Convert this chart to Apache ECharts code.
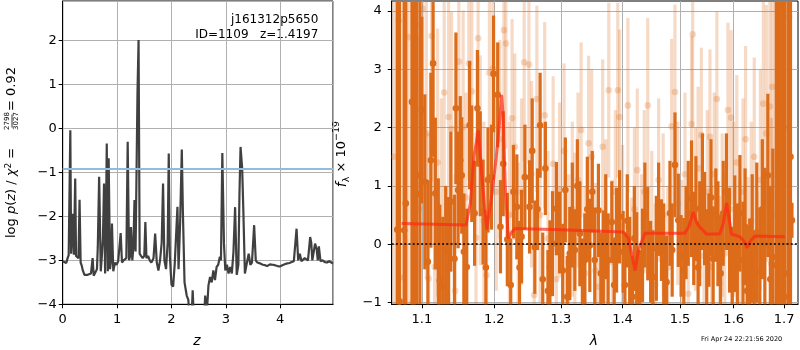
<!DOCTYPE html>
<html><head><meta charset="utf-8">
<script src="https://cdn.jsdelivr.net/npm/echarts@6/dist/echarts.min.js"></script>
<style>html,body{margin:0;padding:0;background:#fff}#c{width:800px;height:350px}</style>
</head><body><div id="c"></div>
<script>
// ---------- left panel: redshift probability ----------
const zMin = 0, zMax = 4.97;
const logpMin = -4, logpMax = 2.9;
const pzRef = -0.91;
const zVals = [0.00,0.03,0.066,0.09,0.11,0.13,0.14,0.155,0.17,0.19,
0.205,0.23,0.245,0.27,0.29,0.31,0.33,0.35,0.37,0.40,
0.43,0.46,0.49,0.52,0.55,0.57,0.60,0.63,0.645,0.67,
0.70,0.72,0.74,0.76,0.78,0.80,0.81,0.83,0.845,0.87,
0.89,0.906,0.93,0.96,0.99,1.02,1.045,1.066,1.09,1.12,
1.15,1.17,1.195,1.22,1.24,1.255,1.28,1.30,1.32,1.34,
1.355,1.375,1.395,1.415,1.44,1.47,1.50,1.52,1.54,1.57,
1.60,1.63,1.67,1.70,1.73,1.76,1.79,1.82,1.845,1.87,
1.90,1.93,1.95,1.97,2.00,2.03,2.06,2.09,2.11,2.13,
2.16,2.19,2.21,2.24,2.28,2.31,2.33,2.37,2.39,2.41,
2.60,2.62,2.65,2.68,2.71,2.74,2.77,2.80,2.83,2.86,
2.89,2.91,2.935,2.965,2.99,3.02,3.05,3.08,3.11,3.14,
3.17,3.20,3.23,3.25,3.27,3.30,3.32,3.35,3.38,3.42,
3.45,3.48,3.52,3.55,3.58,3.63,3.68,3.72,3.76,3.81,
3.86,3.90,3.95,3.99,4.04,4.08,4.13,4.17,4.21,4.25,
4.28,4.30,4.33,4.36,4.39,4.42,4.45,4.48,4.51,4.55,
4.57,4.59,4.64,4.67,4.69,4.71,4.74,4.78,4.82,4.86,
4.90,4.94,4.97];
const logpVals = [-3.02,-3.05,-3.06,-2.95,-2.88,-2.85,-0.04,-2.85,-2.82,-1.94,
-2.87,-1.14,-2.90,-2.92,-2.95,-1.62,-3.05,-3.12,-3.23,-3.33,
-3.35,-3.33,-3.34,-3.30,-2.95,-3.35,-3.38,-3.20,-2.70,-1.10,
-3.25,-2.90,-2.50,-1.25,-3.30,-1.60,-0.34,-3.25,-0.68,-3.20,
-3.00,-2.16,-3.25,-3.05,-3.10,-3.02,-3.00,-2.38,-3.05,-3.00,
-3.02,-2.95,-0.30,-3.00,-2.90,-2.24,-3.00,-2.70,-1.63,-2.80,
-2.80,0.80,2.01,-2.85,-2.90,-2.95,-2.90,-2.13,-2.95,-2.90,
-3.00,-3.05,-2.95,-2.39,-3.05,-3.23,-3.00,-2.60,-1.25,-3.00,
-3.20,-2.60,-0.57,-2.90,-3.55,-3.60,-3.08,-2.30,-1.78,-3.20,
-2.10,-0.48,-1.90,-3.50,-3.80,-3.90,-4.30,-4.30,-3.68,-4.30,
-4.30,-3.80,-4.20,-3.57,-3.38,-3.50,-3.23,-3.45,-3.15,-3.10,
-2.92,-3.00,-0.56,-2.62,-3.23,-3.10,-3.30,-3.15,-3.30,-2.80,
-1.79,-3.33,-3.10,-1.50,-0.42,-0.91,-1.80,-3.30,-3.10,-2.85,
-3.10,-3.05,-2.20,-3.00,-3.05,-3.07,-3.10,-3.11,-3.13,-3.09,
-3.10,-3.11,-3.13,-3.14,-3.11,-3.09,-3.07,-3.06,-3.04,-3.02,
-3.00,-2.28,-3.00,-2.85,-3.02,-3.00,-2.95,-2.92,-3.00,-2.47,
-2.60,-3.00,-2.62,-2.75,-3.00,-2.68,-3.02,-3.00,-3.04,-3.05,
-3.02,-3.05,-3.07];

// ---------- right panel: spectrum ----------
const lamMin = 1.0609, lamMax = 1.7285;
const fMin = -1.03, fMax = 4.17;
const lamTicks = [1.1,1.2,1.3,1.4,1.5,1.6,1.7];
const fTicks = [-1,0,1,2,3,4];
const zeroLevel = 0;
const darkLam = [
1.068,1.071,1.077,1.079,1.087,1.090,1.093,1.0975,1.100,1.104,
1.108,1.112,1.115,1.118,1.122,1.124,1.128,1.132,1.136,1.139,
1.144,1.146,1.149,1.152,1.154,1.157,1.161,1.165,1.168,1.172,
1.176,1.180,1.184,1.188,1.191,1.196,1.199,1.205,1.209,1.213,
1.219,1.224,1.228,1.233,1.237,1.240,1.245,1.252,1.256,1.260,
1.264,1.268,1.272,1.276,1.280,1.283,1.287,1.293,1.298,1.303,
1.307,1.310,1.314,1.318,1.322,1.326,1.330,1.334,1.338,1.342,
1.346,1.350,1.354,1.360,1.364,1.368,1.372,1.376,1.382,1.386,
1.390,1.395,1.401,1.404,1.408,1.412,1.417,1.420,1.424,1.429,
1.434,1.438,1.443,1.448,1.452,1.458,1.462,1.467,1.471,1.476,
1.482,1.486,1.491,1.497,1.502,1.507,1.511,1.515,1.521,1.525,
1.529,1.533,1.536,1.541,1.545,1.549,1.553,1.557,1.561,1.566,
1.570,1.575,1.580,1.586,1.592,1.597,1.602,1.607,1.612,1.618,
1.622,1.626,1.631,1.636,1.640,1.645,1.651,1.656,1.661,1.667,
1.672,1.677,1.684,1.688,1.692,1.697,1.701,1.708,1.713,1.716];
const darkFlux = [
0.25,-0.98,0.24,0.70,2.44,3.79,1.18,0.86,2.30,1.07,
-0.30,1.44,3.10,0.87,-0.07,-0.62,-0.73,-0.10,-0.39,0.73,
-0.25,2.33,0.93,1.44,1.18,-0.13,-0.39,2.04,1.38,0.53,
2.33,1.38,0.55,-0.40,1.10,1.15,2.92,2.56,0.30,1.38,
0.08,-0.70,0.90,0.64,-0.40,0.13,1.15,0.64,1.60,-0.05,
0.60,2.04,-0.60,1.30,-0.80,-0.39,0.01,0.61,0.20,-0.45,
0.93,-0.90,-0.16,0.50,-0.10,1.00,0.18,-0.60,-0.27,0.60,
-0.02,0.90,-0.27,0.58,-0.50,-0.22,0.30,-0.27,0.38,-0.70,
0.07,0.47,-0.13,-0.70,0.40,-0.33,-0.90,0.10,-0.25,-0.80,
-0.19,0.50,0.18,-0.30,-0.56,-0.07,0.60,0.07,-0.20,-0.65,
0.53,-0.10,1.36,0.41,-0.20,-0.45,0.20,0.53,0.78,0.10,
0.61,-0.40,0.18,0.90,0.44,-0.30,0.07,0.80,-0.25,0.50,
0.18,-0.50,0.53,0.90,0.07,-0.60,0.18,-0.20,0.53,-0.27,
0.30,-0.80,-0.56,0.10,-0.87,0.20,-0.47,0.60,0.01,1.18,
-0.60,-0.36,-0.22,0.90,1.21,2.30,-0.90,-0.50,1.50,0.41];
const darkErr = [
8,8,8,6,6,6,5,5,1.6,1.5,
1.4,1.5,1.6,1.3,1.2,1.3,1.2,1.1,1.2,1.2,
1.1,1.3,1.0,1.1,1.0,1.0,1.0,1.1,1.0,0.9,
1.0,0.9,0.9,0.9,0.9,0.9,1.0,0.9,0.8,0.9,
0.8,0.8,0.8,0.9,0.8,0.8,0.9,0.8,0.9,0.8,
0.7,0.9,0.8,0.8,0.7,0.8,0.9,0.8,0.7,0.8,
0.9,0.7,0.8,0.9,0.7,0.8,0.9,0.7,0.8,0.9,
0.8,0.7,0.9,0.8,0.7,0.8,0.9,0.8,0.7,0.8,
0.9,0.8,0.7,0.9,0.8,0.8,0.7,0.9,0.8,0.7,
0.8,0.9,0.8,0.7,0.8,0.9,0.8,0.7,0.9,0.8,
0.9,0.8,0.9,0.8,0.7,0.9,0.8,0.9,1.0,0.8,
0.9,0.8,0.9,1.0,0.8,0.9,0.8,1.0,0.9,0.8,
0.9,1.0,0.9,1.0,0.9,0.9,1.0,0.9,1.0,1.0,
1.0,1.1,1.0,1.1,1.1,1.2,1.1,1.2,1.3,1.4,
1.6,2.0,5,6,6,6,6,6,6,0.3];
const lightLam = [
1.064,1.070,1.076,1.082,1.088,1.092,1.096,1.101,1.106,1.109,
1.113,1.117,1.121,1.126,1.130,1.136,1.140,1.145,1.150,1.156,
1.160,1.164,1.168,1.174,1.177,1.180,1.185,1.189,1.193,1.198,
1.203,1.208,1.214,1.217,1.222,1.226,1.230,1.235,1.240,1.244,
1.251,1.255,1.259,1.263,1.268,1.275,1.280,1.288,1.293,1.298,
1.305,1.312,1.318,1.322,1.327,1.332,1.338,1.344,1.349,1.355,
1.360,1.367,1.372,1.377,1.383,1.388,1.392,1.395,1.400,1.409,
1.415,1.420,1.425,1.432,1.437,1.443,1.450,1.456,1.462,1.470,
1.478,1.485,1.491,1.496,1.503,1.509,1.515,1.521,1.523,1.528,
1.533,1.539,1.544,1.550,1.555,1.558,1.563,1.568,1.573,1.578,
1.583,1.589,1.595,1.600,1.606,1.612,1.618,1.623,1.628,1.634,
1.640,1.646,1.652,1.658,1.664,1.671,1.674,1.676,1.682,1.688,
1.695,1.703,1.710];
const lightFlux = [
1.50,3.83,-0.57,3.55,-0.99,3.77,0.60,4.04,1.90,-0.59,
3.57,-0.39,1.40,0.30,2.60,2.18,1.98,-0.80,3.13,2.01,
0.80,3.10,2.62,0.11,3.53,1.44,0.40,-0.53,2.94,3.01,
0.90,1.80,3.67,3.44,0.50,2.16,1.67,-0.20,0.90,3.12,
3.08,1.20,-0.87,2.49,0.50,2.21,0.10,1.38,-0.60,0.93,
1.60,-0.30,0.60,0.07,1.10,1.96,-0.50,1.73,1.50,-0.45,
-0.73,1.67,0.40,2.64,-0.30,0.90,2.64,2.18,0.30,2.38,
-0.60,0.60,1.27,-0.20,0.90,2.38,0.20,-0.70,1.10,0.50,
-0.40,2.02,2.61,0.70,-0.30,1.20,-0.85,2.06,3.60,0.60,
1.30,1.87,-0.20,0.90,1.84,-0.39,1.20,2.49,-0.67,0.50,
-0.16,2.30,2.17,0.60,1.40,-0.39,0.90,1.80,-0.45,0.40,
1.50,-0.90,1.10,2.41,1.90,2.36,-0.33,2.70,0.50,3.20,
-0.50,2.00,3.90];
const lightErr = [
8,8,8,8,6,4,3,3,2.5,2.5,
2.5,2.3,2.3,2.2,2.2,2.2,2.0,2.0,2.0,2.0,
1.8,2.0,1.8,1.8,1.8,1.8,1.7,1.7,1.8,1.8,
1.7,1.7,1.8,1.8,1.6,1.7,1.6,1.6,1.6,1.7,
1.7,1.6,1.6,1.6,1.5,1.6,1.5,1.5,1.5,1.5,
1.5,1.5,1.5,1.5,1.5,1.5,1.5,1.5,1.5,1.5,
1.5,1.5,1.4,1.5,1.4,1.4,1.5,1.5,1.4,1.5,
1.4,1.4,1.4,1.4,1.4,1.5,1.4,1.4,1.4,1.4,
1.4,1.5,1.5,1.4,1.4,1.4,1.4,1.5,1.6,1.4,
1.4,1.5,1.4,1.4,1.5,1.4,1.4,1.5,1.5,1.4,
1.4,1.5,1.5,1.5,1.5,1.5,1.6,1.6,1.6,1.7,
1.7,1.8,1.9,2.0,2.2,2.5,2.5,3,4,6,
8,8,8];
const modelLam = [1.0737,1.160,1.166,1.171,1.1773,1.182,1.1891,1.196,1.203,1.207,1.2107,1.213,1.216,1.2203,1.225,1.2302,1.30,1.4014,1.410,1.416,1.4212,1.427,1.4383,1.5088,1.516,1.5240,1.530,1.5363,1.541,1.5488,1.5736,1.580,1.5863,1.591,1.5959,1.6120,1.620,1.6262,1.632,1.6414,1.7015];
const modelFlux = [0.355,0.33,0.7,1.5,1.95,1.2,0.25,0.8,1.5,2.0,2.56,2.2,1.0,0.1,0.2,0.27,0.25,0.21,0.1,-0.2,-0.45,-0.1,0.19,0.19,0.3,0.55,0.38,0.29,0.25,0.17,0.18,0.35,0.71,0.45,0.17,0.13,0.05,-0.06,0.05,0.14,0.13];

// ---------- texts ----------
const titleLine1 = 'j161312p5650';
const titleLine2 = 'ID=1109   z=1.4197';
const fracNum = '2798', fracDen = '3027';
const dateText = 'Fri Apr 24 22:21:56 2020';

// ---------- chart ----------
const FONT = "'DejaVu Sans', sans-serif";
const minus = v => String(v).replace('-', '\u2212');
const DARK = '#dc6b1a';
const log10 = Math.log10;

function errorBars(color, alpha, r, lw) {
  return function (params, api) {
    const cs = params.coordSys;
    const x = api.value(0), y = api.value(1), e = api.value(2);
    const c = api.coord([x, y]);
    const lo = api.coord([x, y - e])[1], hi = api.coord([x, y + e])[1];
    const top = cs.y, bot = cs.y + cs.height;
    const cl = v => Math.max(top, Math.min(bot, v));
    const children = [{type: 'line', shape: {x1: c[0], y1: cl(lo), x2: c[0], y2: cl(hi)},
      style: {stroke: color, lineWidth: lw, opacity: alpha}}];
    if (c[1] >= top && c[1] <= bot) {
      children.push({type: 'circle', shape: {cx: c[0], cy: c[1], r: r}, style: {fill: color, opacity: alpha}});
    }
    return {type: 'group', children: children};
  };
}

const axisCommon = {
  axisLine: {show: true, onZero: false, lineStyle: {color: '#000', width: 1}},
  axisTick: {show: true, length: 4, lineStyle: {color: '#000', width: 1}},
  splitLine: {show: true, lineStyle: {color: '#b0b0b0', width: 1}},
};
const lab = (extra) => Object.assign({color: '#000', fontSize: 13, fontFamily: FONT}, extra);

const chart = echarts.init(document.getElementById('c'), null, {renderer: 'canvas'});
chart.setOption({
  animation: false,
  backgroundColor: '#fff',
  grid: [
    {left: 62.7, top: 1, width: 270.3, height: 303.3, show: true, borderColor: '#000', borderWidth: 1, containLabel: false, outerBoundsMode: 'none'},
    {left: 391.7, top: 1, width: 406.3, height: 303.3, show: true, borderColor: '#000', borderWidth: 1, containLabel: false, outerBoundsMode: 'none'}
  ],
  xAxis: [
    Object.assign({}, axisCommon, {gridIndex: 0, type: 'value', min: zMin, max: zMax, interval: 1,
      axisLabel: lab({margin: 9, showMaxLabel: false, formatter: minus})}),
    Object.assign({}, axisCommon, {gridIndex: 1, type: 'value', min: log10(lamMin), max: log10(lamMax),
      axisTick: Object.assign({}, axisCommon.axisTick, {customValues: lamTicks.map(log10)}),
      axisLabel: lab({margin: 9, customValues: lamTicks.map(log10), formatter: v => Math.pow(10, v).toFixed(1)})})
  ],
  yAxis: [
    Object.assign({}, axisCommon, {gridIndex: 0, type: 'value', min: logpMin, max: logpMax, interval: 1,
      axisLabel: lab({margin: 6, showMaxLabel: false, formatter: minus})}),
    Object.assign({}, axisCommon, {gridIndex: 1, type: 'value', min: fMin, max: fMax,
      axisTick: Object.assign({}, axisCommon.axisTick, {customValues: fTicks}),
      axisLabel: lab({margin: 10, customValues: fTicks, formatter: minus})})
  ],
  series: [
    {type: 'line', xAxisIndex: 0, yAxisIndex: 0, data: [], z: 2, silent: true,
      markLine: {silent: true, symbol: ['none', 'none'], label: {show: false},
        lineStyle: {color: '#93bcdc', width: 2, type: 'solid'}, data: [{yAxis: pzRef}]}},
    {type: 'line', xAxisIndex: 0, yAxisIndex: 0, z: 3, showSymbol: false, clip: true,
      data: zVals.map((z, i) => [z, logpVals[i]]),
      lineStyle: {color: '#404040', width: 2.2}},
    {type: 'custom', xAxisIndex: 1, yAxisIndex: 1, z: 2, silent: true,
      renderItem: errorBars(DARK, 0.25, 3.3, 3.2), encode: {x: 0, y: 1},
      data: lightLam.map((l, i) => [log10(l), lightFlux[i], lightErr[i]])},
    {type: 'custom', xAxisIndex: 1, yAxisIndex: 1, z: 3, silent: true,
      renderItem: errorBars(DARK, 1, 3.3, 3.2), encode: {x: 0, y: 1},
      data: darkLam.map((l, i) => [log10(l), darkFlux[i], darkErr[i]])},
    {type: 'line', xAxisIndex: 1, yAxisIndex: 1, z: 4, showSymbol: false,
      data: modelLam.map((l, i) => [log10(l), modelFlux[i]]),
      lineStyle: {color: '#ff2a14', width: 3, opacity: 0.7}},
    {type: 'line', xAxisIndex: 1, yAxisIndex: 1, data: [], z: 5, silent: true,
      markLine: {silent: true, symbol: ['none', 'none'], label: {show: false},
        lineStyle: {color: '#000', width: 1.5, type: [2, 2.2]}, data: [{yAxis: zeroLevel}]}}
  ],
  graphic: [
    {type: 'text', x: 318.3, y: 20, style: {text: titleLine1, font: '12px ' + FONT, fill: '#000', textAlign: 'right', textVerticalAlign: 'middle'}},
    {type: 'text', x: 318.3, y: 34.5, style: {text: titleLine2, font: '12px ' + FONT, fill: '#000', textAlign: 'right', textVerticalAlign: 'middle'}},
    {type: 'text', x: 197, y: 341, style: {text: 'z', font: 'italic 14px ' + FONT, fill: '#000', textAlign: 'center', textVerticalAlign: 'middle'}},
    {type: 'text', x: 594, y: 341, style: {text: 'λ', font: 'italic 14px ' + FONT, fill: '#000', textAlign: 'center', textVerticalAlign: 'middle'}},
    {type: 'text', x: 701, y: 339.7, style: {text: dateText, font: '6.5px ' + FONT, fill: '#000', textAlign: 'left', textVerticalAlign: 'middle'}},
    {type: 'group', x: 12, y: 152, rotation: Math.PI / 2, children: [
      {type: 'text', x: -86, y: 0, style: {text: 'log {i|p}({i|z}) / {i|χ}{sup|2} =', font: '13px ' + FONT, fill: '#000',
        textAlign: 'left', textVerticalAlign: 'middle',
        rich: {i: {fontStyle: 'italic', fontSize: 13, fontFamily: FONT}, sup: {fontSize: 9, fontFamily: FONT, verticalAlign: 'top', lineHeight: 16}}}},
      {type: 'text', x: 31, y: -4.5, style: {text: fracNum, font: '7px ' + FONT, fill: '#000', textAlign: 'center', textVerticalAlign: 'middle'}},
      {type: 'line', shape: {x1: 24.5, y1: 0, x2: 37.5, y2: 0}, style: {stroke: '#000', lineWidth: 0.8}},
      {type: 'text', x: 31, y: 4.5, style: {text: fracDen, font: '7px ' + FONT, fill: '#000', textAlign: 'center', textVerticalAlign: 'middle'}},
      {type: 'text', x: 85, y: 0, style: {text: '= 0.92', font: '13px ' + FONT, fill: '#000', textAlign: 'right', textVerticalAlign: 'middle'}}
    ]},
    {type: 'group', x: 342, y: 152, rotation: Math.PI / 2, children: [
      {type: 'text', x: -2, y: 0, style: {text: '{i|f}{sub|λ} × 10{sup|−19}', font: '13px ' + FONT, fill: '#000',
        textAlign: 'center', textVerticalAlign: 'middle',
        rich: {i: {fontStyle: 'italic', fontSize: 14, fontFamily: FONT, lineHeight: 20},
               sub: {fontSize: 9.5, fontFamily: FONT, verticalAlign: 'bottom', lineHeight: 20},
               sup: {fontSize: 9.5, fontFamily: FONT, verticalAlign: 'top', lineHeight: 20}}}}
    ]}
  ]
});
</script>
</body></html>
